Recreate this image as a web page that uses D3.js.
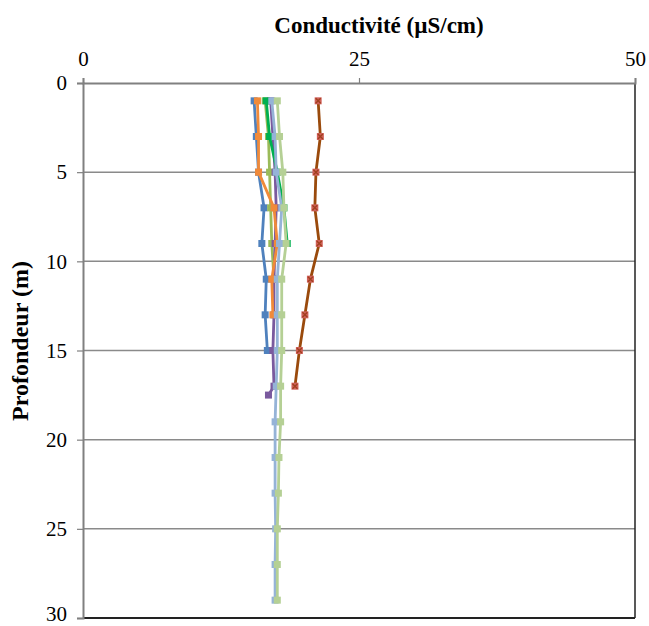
<!DOCTYPE html>
<html>
<head>
<meta charset="utf-8">
<script src="https://cdn.jsdelivr.net/npm/d3@7"></script>
<style>
  html, body { margin: 0; padding: 0; background: #fff; }
  svg { display: block; }
  text { font-family: "Liberation Serif", "Times New Roman", serif; fill: #000; }
</style>
</head>
<body>
<svg id="chart" width="649" height="626"></svg>
<script>
// Depth profiles of conductivity (µS/cm) against depth (m)
const xTicks = [0, 25, 50];
const yTicks = [0, 5, 10, 15, 20, 25, 30];

const depthsShort = [1, 3, 5, 7, 9, 11, 13, 15];
const depthsMid = [1, 3, 5, 7, 9, 11, 13, 15, 17];
const depthsOrange = [1, 3, 5, 7, 9, 11, 13];
const depthsGreen = [1, 3, 5, 7, 9];
const depthsOlive = [1, 3, 5, 7, 9, 11];
const depthsPurple = [1, 3, 5, 7, 9, 11, 13, 15, 17, 17.5];
const depthsLong = [1, 3, 5, 7, 9, 11, 13, 15, 17, 19, 21, 23, 25, 27, 29];

const blueValues = [15.5, 15.7, 15.9, 16.4, 16.2, 16.6, 16.5, 16.7];
const brownValues = [21.3, 21.5, 21.1, 21.0, 21.4, 20.6, 20.1, 19.6, 19.2];
const oliveValues = [16.5, 16.8, 16.9, 17.0, 17.1, 17.3];
const purpleValues = [17.0, 17.2, 17.4, 17.5, 17.4, 17.3, 17.3, 17.2, 17.3, 16.8];
const orangeValues = [15.8, 15.9, 15.9, 17.3, 17.6, 17.1, 17.2];
const greenValues = [16.6, 16.9, 17.6, 18.2, 18.5];
const lightBlueValues = [17.1, 17.4, 17.5, 18.0, 17.8, 17.6, 17.6, 17.6, 17.5, 17.4, 17.4, 17.4, 17.45, 17.4, 17.4];
const lightGreenValues = [17.6, 17.8, 18.1, 18.2, 18.4, 18.0, 18.0, 18.0, 17.9, 17.9, 17.75, 17.7, 17.6, 17.6, 17.6];

const series = [
  { depths: depthsShort, values: blueValues, line: "#4F81BD", fill: "#4F81BD", cross: false },
  { depths: depthsMid, values: brownValues, line: "#9A4A0C", fill: "#D0605A", cross: true },
  { depths: depthsOlive, values: oliveValues, line: "#9BBB59", fill: "#9BBB59", cross: false },
  { depths: depthsPurple, values: purpleValues, line: "#7A5A9E", fill: "#7A5A9E", cross: false },
  { depths: depthsOrange, values: orangeValues, line: "#F08A3A", fill: "#F08A3A", cross: false },
  { depths: depthsGreen, values: greenValues, line: "#00B050", fill: "#00B050", cross: false },
  { depths: depthsLong, values: lightBlueValues, line: "#95B3D7", fill: "#95B3D7", cross: false },
  { depths: depthsLong, values: lightGreenValues, line: "#B5D095", fill: "#B5D095", cross: false }
];

const svg = d3.select("#chart");
const margin = { left: 83, right: 14, top: 83, bottom: 8 };
const width = 649 - margin.left - margin.right;
const height = 626 - margin.top - margin.bottom;

const x = d3.scaleLinear().domain([0, 50]).range([0, width]);
const y = d3.scaleLinear().domain([0, 30]).range([0, height]);

const g = svg.append("g").attr("transform", `translate(${margin.left},${margin.top})`);

// horizontal gridlines
g.append("g")
  .selectAll("line")
  .data(yTicks.filter(t => t > 0 && t < 30))
  .join("line")
  .attr("x1", 0).attr("x2", width)
  .attr("y1", d => y(d)).attr("y2", d => y(d))
  .attr("stroke", "#8a8a8a").attr("stroke-width", 1.5);

// plot frame
g.append("line").attr("x1", width).attr("x2", width).attr("y1", 0).attr("y2", height)
  .attr("stroke", "#222").attr("stroke-width", 1.5);
g.append("line").attr("x1", 0).attr("x2", width).attr("y1", height).attr("y2", height)
  .attr("stroke", "#222").attr("stroke-width", 2);

const serif = '"Liberation Serif", "Times New Roman", serif';

// top axis
const xAxis = g.append("g")
  .call(d3.axisTop(x).tickValues(xTicks).tickSize(5).tickPadding(12));
xAxis.attr("font-family", null);
xAxis.select(".domain").attr("stroke", "#808080").attr("stroke-width", 2);
xAxis.selectAll(".tick line").attr("stroke", "#808080").attr("stroke-width", 1.2);
xAxis.selectAll("text").style("font-family", serif).style("font-size", "21px").attr("fill", "#000");

// left axis
const yAxis = g.append("g")
  .call(d3.axisLeft(y).tickValues(yTicks).tickSize(6).tickPadding(10));
yAxis.attr("font-family", null);
yAxis.select(".domain").attr("stroke", "#808080").attr("stroke-width", 2);
yAxis.selectAll(".tick line").attr("stroke", "#808080").attr("stroke-width", 1.2);
yAxis.selectAll("text").style("font-family", serif).style("font-size", "21px").attr("fill", "#000");
// keep the bottom label inside the page
yAxis.selectAll(".tick").filter(d => d === 30).select("text").attr("dy", "0.1em");

// axis titles
svg.append("text")
  .attr("x", margin.left + x(25) + 20).attr("y", 33)
  .attr("text-anchor", "middle")
  .attr("font-size", 23).attr("font-weight", "bold")
  .text("Conductivité (µS/cm)");

svg.append("text")
  .attr("transform", `translate(28,${341}) rotate(-90)`)
  .attr("text-anchor", "middle")
  .attr("font-size", 24).attr("font-weight", "bold")
  .text("Profondeur (m)");

// profiles
const line = d3.line().x(d => x(d[0])).y(d => y(d[1]));
const ms = 7;

series.forEach(s => {
  const pts = s.values.map((v, i) => [v, s.depths[i]]);
  const sg = g.append("g");
  sg.append("path")
    .attr("d", line(pts))
    .attr("fill", "none")
    .attr("stroke", s.line)
    .attr("stroke-width", 2.8)
    .attr("stroke-linejoin", "round");
  const m = sg.selectAll("g.pt").data(pts).join("g")
    .attr("transform", d => `translate(${x(d[0])},${y(d[1])})`);
  m.append("rect")
    .attr("x", -ms / 2).attr("y", -ms / 2)
    .attr("width", ms).attr("height", ms)
    .attr("fill", s.fill);
  if (s.cross) {
    m.append("path")
      .attr("d", `M${-ms / 2 + 1},${-ms / 2 + 1}L${ms / 2 - 1},${ms / 2 - 1}M${ms / 2 - 1},${-ms / 2 + 1}L${-ms / 2 + 1},${ms / 2 - 1}`)
      .attr("stroke", "#A0401E").attr("stroke-width", 1.3);
  }
});
</script>
</body>
</html>
